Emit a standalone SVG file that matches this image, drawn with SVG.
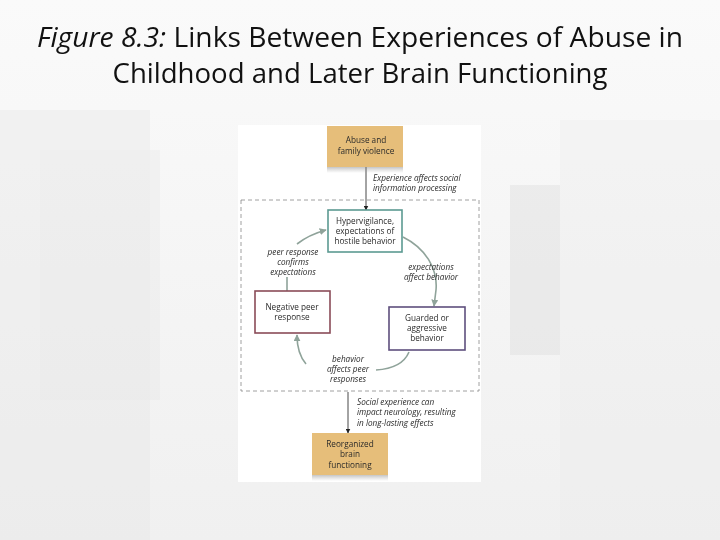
<svg xmlns="http://www.w3.org/2000/svg" width="720" height="540" viewBox="0 0 720 540">
<defs>
<style>
.title{font-family:"Open Sans","Liberation Sans",sans-serif;font-size:27px;fill:#111}
.bt{font-family:"Open Sans","Liberation Sans",sans-serif;font-size:8.2px;fill:#2a2a2a;text-anchor:middle}
.lb{font-family:"Open Sans","Liberation Sans",sans-serif;font-size:8.2px;font-style:italic;fill:#2a2a2a}
.tan{fill:#e6be7a}
.node{fill:#fff;stroke-width:1.6}
.cur{fill:none;stroke:#8fa39a;stroke-width:1.6}
.str{fill:none;stroke:#333;stroke-width:0.9}
</style>
<marker id="ah" viewBox="0 0 10 10" refX="9" refY="5" markerWidth="7" markerHeight="7" orient="auto-start-reverse" markerUnits="userSpaceOnUse"><path d="M0,0 L10,5 L0,10 z" fill="#8fa39a"/></marker>
<marker id="ak" viewBox="0 0 10 10" refX="9" refY="5" markerWidth="5" markerHeight="5" orient="auto" markerUnits="userSpaceOnUse"><path d="M0,0 L10,5 L0,10 z" fill="#222"/></marker>
<linearGradient id="bg" x1="0" y1="0" x2="0" y2="1"><stop offset="0" stop-color="#fafafa"/><stop offset="1" stop-color="#f0f0f0"/></linearGradient>
<linearGradient id="sh" x1="0" y1="0" x2="0" y2="1"><stop offset="0" stop-color="#777" stop-opacity="0.7"/><stop offset="1" stop-color="#999" stop-opacity="0"/></linearGradient>
</defs>
<rect width="720" height="540" fill="url(#bg)"/>
<g id="backdrop" opacity="0.35">
<rect x="0" y="110" width="150" height="430" fill="#e6e6e6"/>
<rect x="40" y="150" width="120" height="250" fill="#dcdcdc" opacity="0.6"/>
<rect x="510" y="185" width="50" height="170" fill="#d8d8d8"/>
<rect x="560" y="120" width="160" height="420" fill="#ececec"/>
</g>
<g id="title">
<text class="title" x="360" y="47" text-anchor="middle" textLength="646" lengthAdjust="spacingAndGlyphs"><tspan font-style="italic">Figure 8.3:</tspan> Links Between Experiences of Abuse in</text>
<text class="title" x="360" y="83" text-anchor="middle" textLength="495" lengthAdjust="spacingAndGlyphs">Childhood and Later Brain Functioning</text>
</g>
<rect id="panel" x="238" y="125" width="243" height="357" fill="#fff"/>
<rect id="dashed" x="241" y="200" width="238" height="191" fill="none" stroke="#888" stroke-width="0.8" stroke-dasharray="4 3"/>
<g id="connectors">
<line class="str" x1="366" y1="167" x2="366" y2="210" marker-end="url(#ak)"/>
<line class="str" x1="348" y1="392" x2="348" y2="433" marker-end="url(#ak)"/>
<path class="cur" d="M403,237 C425,248 438,268 436,290 L434,306" marker-end="url(#ah)"/>
<path class="cur" d="M409,352 C404,364 392,369 376,370"/>
<path class="cur" d="M306,364 C300,357 297,348 297,335" marker-end="url(#ah)"/>
<path class="cur" d="M287,291 L287,277"/>
<path class="cur" d="M297,244 C306,237 315,233 326,230" marker-end="url(#ah)"/>
</g>
<g id="abuse">
<rect x="327" y="164" width="76" height="9" fill="url(#sh)"/>
<rect class="tan" x="327" y="126" width="76" height="41"/>
<text class="bt" x="366" y="143">Abuse and</text>
<text class="bt" x="366" y="154">family violence</text>
</g>
<text class="lb" x="373" y="181">Experience affects social</text>
<text class="lb" x="373" y="191">information processing</text>
<g id="hyper">
<rect class="node" x="328" y="210" width="74" height="42" stroke="#5c9a92"/>
<text class="bt" x="365" y="224">Hypervigilance,</text>
<text class="bt" x="365" y="234">expectations of</text>
<text class="bt" x="365" y="244">hostile behavior</text>
</g>
<text class="lb" x="293" y="255" text-anchor="middle">peer response</text>
<text class="lb" x="293" y="265" text-anchor="middle">confirms</text>
<text class="lb" x="293" y="275" text-anchor="middle">expectations</text>
<text class="lb" x="431" y="270" text-anchor="middle">expectations</text>
<text class="lb" x="431" y="280" text-anchor="middle">affect behavior</text>
<g id="negative">
<rect class="node" x="255" y="291" width="75" height="42" stroke="#8a4b58"/>
<text class="bt" x="292" y="310">Negative peer</text>
<text class="bt" x="292" y="320">response</text>
</g>
<g id="guarded">
<rect class="node" x="389" y="307" width="76" height="43" stroke="#5e4f7d"/>
<text class="bt" x="427" y="321">Guarded or</text>
<text class="bt" x="427" y="331">aggressive</text>
<text class="bt" x="427" y="341">behavior</text>
</g>
<text class="lb" x="348" y="362" text-anchor="middle">behavior</text>
<text class="lb" x="348" y="372" text-anchor="middle">affects peer</text>
<text class="lb" x="348" y="382" text-anchor="middle">responses</text>
<text class="lb" x="357" y="405">Social experience can</text>
<text class="lb" x="357" y="415">impact neurology, resulting</text>
<text class="lb" x="357" y="426">in long-lasting effects</text>
<g id="reorganized">
<rect x="312" y="472" width="76" height="9" fill="url(#sh)"/>
<rect class="tan" x="312" y="433" width="76" height="42"/>
<text class="bt" x="350" y="447">Reorganized</text>
<text class="bt" x="350" y="457">brain</text>
<text class="bt" x="350" y="468">functioning</text>
</g>
</svg>
